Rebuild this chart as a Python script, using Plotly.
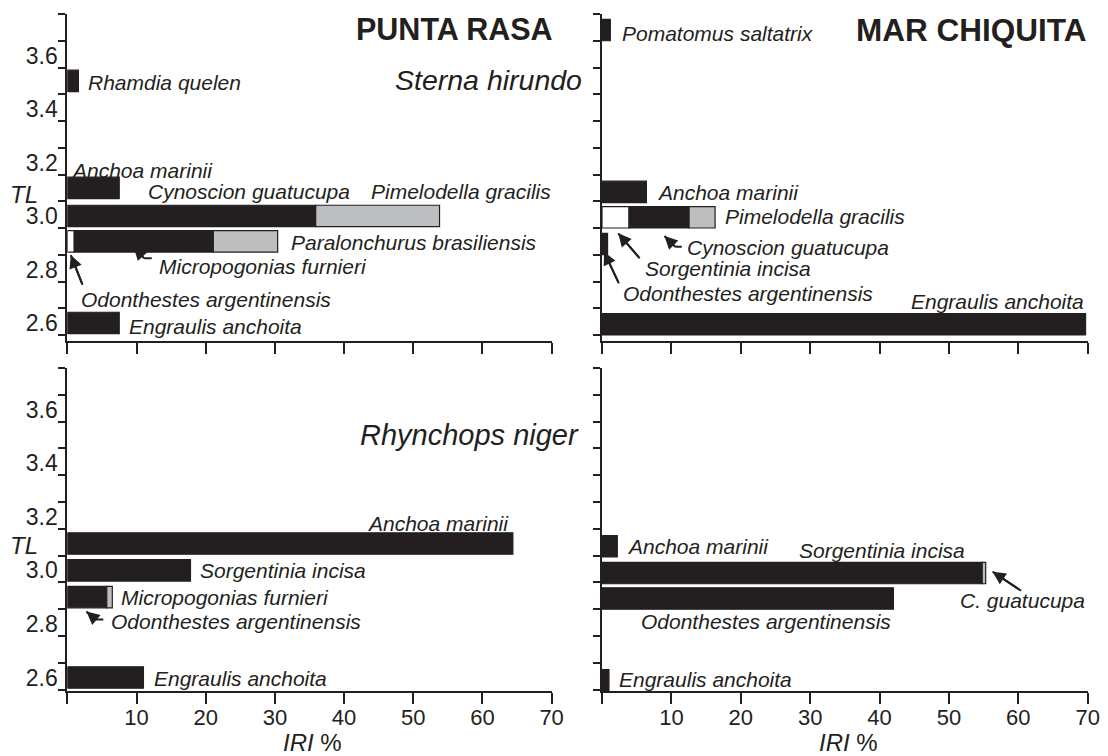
import plotly.graph_objects as go

# ---------------- data ----------------
# Punta Rasa - Sterna hirundo
pr_sh_species = ["Rhamdia quelen", "Anchoa marinii", "Cynoscion guatucupa", "Pimelodella gracilis",
                 "Odonthestes argentinensis", "Micropogonias furnieri", "Paralonchurus brasiliensis",
                 "Engraulis anchoita"]
pr_sh_tl = [3.55, 3.15, 3.045, 3.045, 2.95, 2.95, 2.95, 2.645]
pr_sh_iri = [1.6, 7.5, 35.9, 17.9, 1.0, 20.1, 9.3, 7.5]
pr_sh_group = ["A", "A", "A", "B", "C", "A", "B", "A"]

# Mar Chiquita - Sterna hirundo
mc_sh_species = ["Pomatomus saltatrix", "Anchoa marinii", "Sorgentinia incisa", "Cynoscion guatucupa",
                 "Pimelodella gracilis", "Odonthestes argentinensis", "Engraulis anchoita"]
mc_sh_tl = [3.74, 3.135, 3.04, 3.04, 3.04, 2.94, 2.64]
mc_sh_iri = [1.2, 6.4, 3.9, 8.65, 3.75, 0.8, 69.7]
mc_sh_group = ["A", "A", "C", "A", "B", "A", "A"]

# Punta Rasa - Rhynchops niger
pr_rn_species = ["Anchoa marinii", "Sorgentinia incisa", "Odonthestes argentinensis",
                 "Micropogonias furnieri", "Engraulis anchoita"]
pr_rn_tl = [3.145, 3.045, 2.945, 2.945, 2.645]
pr_rn_iri = [64.4, 17.8, 5.7, 0.8, 11.0]
pr_rn_group = ["A", "A", "A", "B", "A"]

# Mar Chiquita - Rhynchops niger
mc_rn_species = ["Anchoa marinii", "Sorgentinia incisa", "Cynoscion guatucupa",
                 "Odonthestes argentinensis", "Engraulis anchoita"]
mc_rn_tl = [3.135, 3.035, 3.035, 2.94, 2.635]
mc_rn_iri = [2.2, 54.8, 0.5, 42.0, 1.0]
mc_rn_group = ["A", "A", "B", "A", "A"]

x_ticks = [0, 10, 20, 30, 40, 50, 60, 70]
y_ticks = [2.6, 2.7, 2.8, 2.9, 3.0, 3.1, 3.2, 3.3, 3.4, 3.5, 3.6, 3.7, 3.8]
y_labels = ["2.6", "", "2.8", "", "3.0", "", "3.2", "", "3.4", "", "3.6", "", ""]

# ---------------- style ----------------
INK = "#231f20"
GROUP_COLOR = {"A": INK, "B": "#bcbec0", "C": "#ffffff"}
FONT = "Liberation Sans"
BAR_W = 0.08
SP = 21  # species label size

fig = go.Figure()


def add_panel(idx, species, tl, iri, group):
    bases = []
    running = {}
    for t, v in zip(tl, iri):
        b = running.get(t, 0.0)
        bases.append(b)
        running[t] = b + v
    fig.add_trace(go.Bar(
        x=iri, y=tl, base=bases, orientation="h", width=BAR_W,
        marker=dict(color=[GROUP_COLOR[g] for g in group], line=dict(color=INK, width=1.2)),
        hovertext=species, showlegend=False,
        xaxis="x" if idx == 1 else f"x{idx}", yaxis="y" if idx == 1 else f"y{idx}",
    ))


add_panel(1, pr_sh_species, pr_sh_tl, pr_sh_iri, pr_sh_group)
add_panel(2, mc_sh_species, mc_sh_tl, mc_sh_iri, mc_sh_group)
add_panel(3, pr_rn_species, pr_rn_tl, pr_rn_iri, pr_rn_group)
add_panel(4, mc_rn_species, mc_rn_tl, mc_rn_iri, mc_rn_group)

# the page body adds an 8px margin; figure coordinates are shifted by 8px
OFF = 8
W, H = 1108 - 2 * OFF, 756 - OFF
xdom_left = [(68 - OFF) / W, (558 - OFF) / W]
xdom_right = [(608.6 - OFF) / W, min(1.0, (1100 - OFF) / W)]
ydom_top = [1 - (341 - OFF) / H, 1 - (14 - OFF) / H]
ydom_bot = [1 - (691 - OFF) / H, 1 - (368 - OFF) / H]
yr_top = [3.8 - 327 / 267.5, 3.8001]
yr_bot = [3.8 - 323 / 268, 3.8001]


def xaxis(dom, anchor, labels):
    return dict(domain=dom, anchor=anchor, range=[0, 70.05], tickmode="array", tickvals=x_ticks,
                ticktext=["" if v == 0 else str(v) for v in x_ticks], showticklabels=labels,
                ticklabelstandoff=-5,
                ticks="outside", ticklen=11, tickwidth=2, tickcolor=INK,
                showline=True, linewidth=2, linecolor=INK, showgrid=False, zeroline=False,
                tickfont=dict(family=FONT, size=22, color=INK), fixedrange=True)


def yaxis(dom, anchor, rng, labels):
    return dict(domain=dom, anchor=anchor, range=rng, tickmode="array", tickvals=y_ticks,
                ticktext=y_labels, showticklabels=labels, ticklabelshift=-12, ticklabelstandoff=-4,
                ticks="outside", ticklen=7, tickwidth=2, tickcolor=INK,
                showline=True, linewidth=2, linecolor=INK, showgrid=False, zeroline=False,
                tickfont=dict(family=FONT, size=23, color=INK), fixedrange=True)


fig.update_layout(
    width=W, height=H, margin=dict(l=0, r=0, t=0, b=0),
    paper_bgcolor="white", plot_bgcolor="white", showlegend=False, barmode="overlay",
    xaxis=xaxis(xdom_left, "y", False), yaxis=yaxis(ydom_top, "x", yr_top, True),
    xaxis2=xaxis(xdom_right, "y2", False), yaxis2=yaxis(ydom_top, "x2", yr_top, False),
    xaxis3=xaxis(xdom_left, "y3", True), yaxis3=yaxis(ydom_bot, "x3", yr_bot, True),
    xaxis4=xaxis(xdom_right, "y4", True), yaxis4=yaxis(ydom_bot, "x4", yr_bot, False),
)

ann = []
shapes = []


def refs(i):
    return ("x", "y") if i == 1 else (f"x{i}", f"y{i}")


def lab(i, text, x, y, xanchor="left", size=SP, style="i", xshift=0):
    xr, yr = refs(i)
    txt = f"<{style}>{text}</{style}>" if style else text
    ann.append(dict(xref=xr, yref=yr, x=x, y=y, text=txt, showarrow=False, xanchor=xanchor,
                    yanchor="middle", xshift=xshift, font=dict(family=FONT, size=size, color=INK)))


def arr(i, x, y, ax, ay, hook_x=None):
    xr, yr = refs(i)
    # shaft drawn as a line so it joins the hook cleanly; head drawn by the annotation arrow
    shapes.append(dict(type="line", xref=xr, yref=yr, x0=ax, y0=ay, x1=x, y1=y,
                       line=dict(color=INK, width=2)))
    ann.append(dict(xref=xr, yref=yr, x=x, y=y, ax=ax, ay=ay, axref=xr, ayref=yr, text="",
                    showarrow=True, arrowhead=2, arrowsize=1.3, arrowwidth=2, arrowcolor=INK))
    if hook_x is not None:
        shapes.append(dict(type="line", xref=xr, yref=yr, x0=ax, y0=ay, x1=hook_x, y1=ay,
                           line=dict(color=INK, width=2)))


# Panel 1: Punta Rasa, Sterna hirundo
lab(1, "PUNTA RASA", 70, 3.745, "right", 30.5, "b", xshift=3)
lab(1, "Sterna hirundo", 70, 3.553, "right", 28.5, "i", xshift=32)
lab(1, "Rhamdia quelen", 2.7, 3.545)
lab(1, "Anchoa marinii", 0.2, 3.215)
lab(1, "Cynoscion guatucupa", 11.4, 3.138)
lab(1, "Pimelodella gracilis", 70, 3.135, "right", xshift=1)
lab(1, "Paralonchurus brasiliensis", 32.0, 2.944)
lab(1, "Micropogonias furnieri", 12.9, 2.856)
lab(1, "Odonthestes argentinensis", 1.7, 2.733)
lab(1, "Engraulis anchoita", 8.6, 2.632)
arr(1, 9.6, 2.929, 11.1, 2.887, hook_x=12.2)
arr(1, 0.5, 2.899, 2.2, 2.787)

# Panel 2: Mar Chiquita, Sterna hirundo
lab(2, "MAR CHIQUITA", 70, 3.742, "right", 31.5, "b", xshift=0)
lab(2, "Pomatomus saltatrix", 2.6, 3.729)
lab(2, "Anchoa marinii", 7.6, 3.131)
lab(2, "Pimelodella gracilis", 17.4, 3.043)
lab(2, "Cynoscion guatucupa", 12.0, 2.929)
lab(2, "Sorgentinia incisa", 5.9, 2.85)
lab(2, "Odonthestes argentinensis", 2.8, 2.757)
lab(2, "Engraulis anchoita", 69.7, 2.725, "right")
arr(2, 9.0, 2.970, 10.55, 2.930, hook_x=11.5)
arr(2, 2.34, 2.98, 5.43, 2.887)
arr(2, 0.3, 2.911, 2.43, 2.793)

# Panel 3: Punta Rasa, Rhynchops niger
lab(3, "Rhynchops niger", 70, 3.55, "right", 29, "i", xshift=29)
lab(3, "Anchoa marinii", 64.2, 3.22, "right")
lab(3, "Sorgentinia incisa", 18.9, 3.046)
lab(3, "Micropogonias furnieri", 7.4, 2.942)
lab(3, "Odonthestes argentinensis", 6.0, 2.853)
lab(3, "Engraulis anchoita", 12.2, 2.643)
arr(3, 2.76, 2.891, 4.1, 2.862, hook_x=5.2)

# Panel 4: Mar Chiquita, Rhynchops niger
lab(4, "Anchoa marinii", 3.3, 3.133)
lab(4, "Sorgentinia incisa", 52.6, 3.12, "right")
lab(4, "C. guatucupa", 70, 2.932, "right", xshift=-1)
lab(4, "Odonthestes argentinensis", 42.0, 2.853, "right")
lab(4, "Engraulis anchoita", 2.1, 2.636)
arr(4, 56.3, 3.04, 60.4, 2.969)

# Axis titles
for yr, tlv in (("y", 3.127), ("y3", 3.136)):
    ann.append(dict(xref="paper", yref=yr, x=(24 - OFF) / W, y=tlv, text="<i>TL</i>", showarrow=False,
                    xanchor="center", yanchor="middle", font=dict(family=FONT, size=24, color=INK)))
for xr in ("x3", "x4"):
    ann.append(dict(xref=xr, yref="paper", x=35.5, y=1 - (742 - OFF) / H, text="<i>IRI</i> %",
                    showarrow=False, xanchor="center", yanchor="middle",
                    font=dict(family=FONT, size=24, color=INK)))

fig.update_layout(annotations=ann, shapes=shapes)
fig.write_html("out.html")
